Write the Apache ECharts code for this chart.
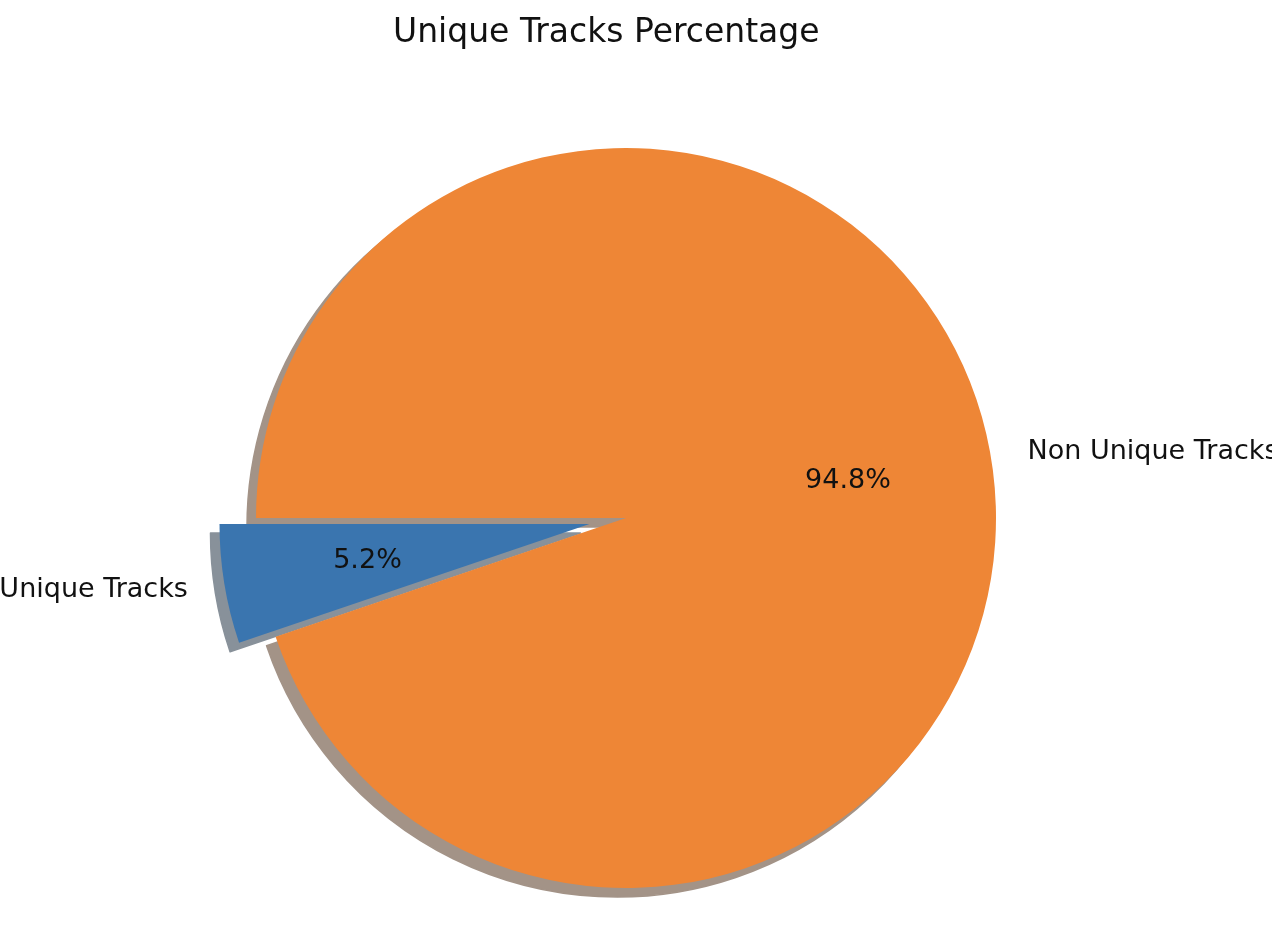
<!DOCTYPE html>
<html>
<head>
<meta charset="utf-8">
<script src="https://cdn.jsdelivr.net/npm/echarts@6/dist/echarts.min.js"></script>
<style>html,body{margin:0;padding:0;background:#fff}#c{width:1272px;height:932px}</style>
</head>
<body>
<div id="c"></div>
<script>
const titleText = 'Unique Tracks Percentage';
const categories = ['Unique Tracks', 'Non Unique Tracks'];
const values = [5.2, 94.8];
const explodedFlags = [true, false];
const colors = ['#3a75af', '#ee8636'];
const shadowColors = ['#88919a', '#a39387'];

const R = 370;
const CX = 626, CY = 518;
const SH = 9;
const FONT = 'DejaVu Sans';

function mkData(opts) {
  return categories.map((n, i) => ({
    name: n,
    value: values[i],
    selected: explodedFlags[i],
    itemStyle: {
      color: opts.colors ? opts.colors[i] : 'rgba(0,0,0,0)',
      borderWidth: opts.border ? 1.5 : 0,
      borderColor: opts.border ? opts.colors[i] : 'rgba(0,0,0,0)'
    }
  }));
}

const base = {
  type: 'pie',
  startAngle: 180,
  clockwise: false,
  selectedMode: 'single',
  selectedOffset: R * 0.1,
  avoidLabelOverlap: false,
  animation: false,
  silent: true,
  emphasis: { disabled: true }
};

const chart = echarts.init(document.getElementById('c'), null, { renderer: 'canvas' });
chart.setOption({
  backgroundColor: '#ffffff',
  title: {
    text: titleText,
    left: 393,
    top: 17,
    padding: 0,
    textStyle: { fontFamily: FONT, fontSize: 33, fontWeight: 'normal', color: '#111' }
  },
  series: [
    Object.assign({}, base, {
      name: 'shadow',
      z: 1,
      center: [CX - SH, CY + SH],
      radius: R,
      label: { show: false },
      labelLine: { show: false },
      data: mkData({ colors: shadowColors, border: true })
    }),
    Object.assign({}, base, {
      name: 'main',
      z: 2,
      center: [CX, CY],
      radius: R,
      label: {
        show: true,
        position: 'outside',
        formatter: '{b}',
        fontFamily: FONT,
        fontSize: 27,
        color: '#111',
        distanceToLabelLine: 0
      },
      labelLine: { show: false, length: R * 0.1, length2: 0 },
      data: mkData({ colors: colors })
    }),
    Object.assign({}, base, {
      name: 'pct',
      z: 3,
      center: [CX, CY],
      radius: R * 1.2,
      label: {
        show: true,
        position: 'inside',
        formatter: p => p.value.toFixed(1) + '%',
        fontFamily: FONT,
        fontSize: 27,
        color: '#111'
      },
      labelLine: { show: false },
      data: mkData({})
    })
  ]
});
</script>
</body>
</html>
